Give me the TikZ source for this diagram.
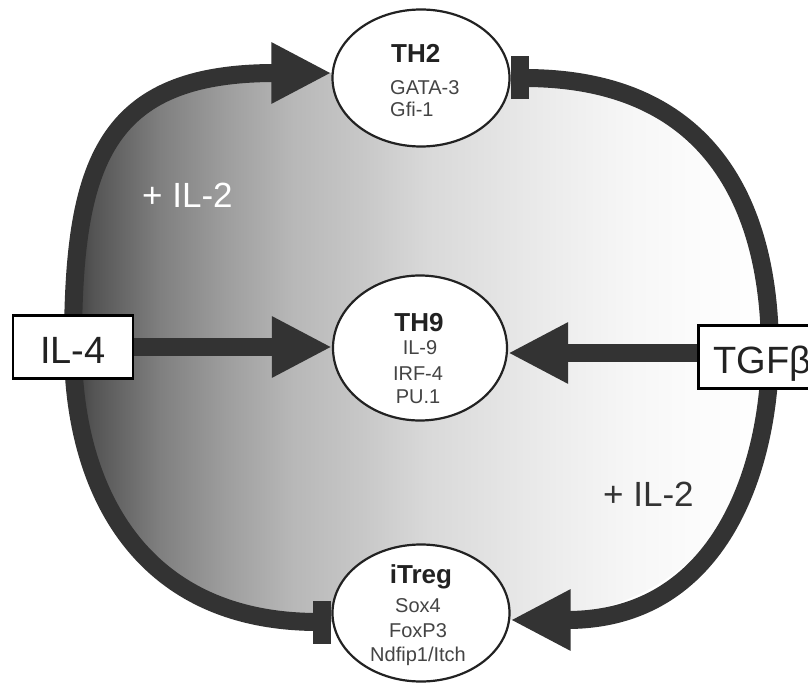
\documentclass[tikz,border=0pt]{standalone}
\usepackage{fontspec}
\setmainfont{Liberation Sans}
\usetikzlibrary{arrows.meta,shapes.geometric}
\definecolor{loopc}{RGB}{51,51,51}
\definecolor{txt}{RGB}{34,34,34}
\definecolor{subtxt}{RGB}{68,68,68}
\pgfdeclarelayer{bg}
\pgfdeclarelayer{mid}
\pgfsetlayers{bg,mid,main}
\pgfdeclarehorizontalshading{loopshade}{100bp}{%
rgb(0bp)=(0.24,0.24,0.24);
rgb(25bp)=(0.24,0.24,0.24);
rgb(26.43bp)=(0.33,0.33,0.33);
rgb(31.24bp)=(0.50,0.50,0.50);
rgb(36.05bp)=(0.62,0.62,0.62);
rgb(40.78bp)=(0.72,0.72,0.72);
rgb(45.59bp)=(0.78,0.78,0.78);
rgb(50.39bp)=(0.85,0.85,0.85);
rgb(55.13bp)=(0.89,0.89,0.89);
rgb(59.94bp)=(0.93,0.93,0.93);
rgb(64.74bp)=(0.965,0.965,0.965);
rgb(69.48bp)=(0.985,0.985,0.985);
rgb(75bp)=(1,1,1);
rgb(100bp)=(1,1,1)}
\tikzset{
  cell/.style={ellipse, draw=txt, line width=2.2pt, fill=white, inner sep=0pt},
  box/.style={draw=black, line width=2.5pt, fill=white, font=\fontsize{38}{38}\selectfont,
    text=txt, text height=34pt, text depth=1pt, inner ysep=14pt},
  title/.style={font=\fontsize{26}{26}\selectfont\bfseries, text=txt, anchor=base, inner sep=0pt},
  sub/.style={font=\fontsize{20}{20}\selectfont, text=subtxt, anchor=base, inner sep=0pt},
  plus/.style={font=\fontsize{35}{35}\selectfont, anchor=base west, inner sep=0pt},
  loopline/.style={draw=loopc, line width=18pt},
  head/.style={-{Triangle[length=60pt,width=57pt]}},
  barend/.style={-{Rectangle[length=18pt,width=43pt]}}
}
\begin{document}
\begin{tikzpicture}[x=1pt,y=-1pt]
\useasboundingbox (0,0) rectangle (808,684);
\clip (0,0) rectangle (808,684);

% nodes
\node[cell, minimum width=177pt, minimum height=137pt] (TH2) at (421,78) {};
\node[cell, minimum width=174pt, minimum height=145pt] (TH9) at (420,348) {};
\node[cell, minimum width=177pt, minimum height=137pt] (iTreg) at (421,613) {};
\node[box, minimum width=120pt] (IL4) at (73,347) {IL-4};
\node[box, anchor=west, inner xsep=15pt] (TGF) at (697,357) {TGFβ};
\coordinate (R) at (770,352);

% texts inside cells
\node[title, anchor=base west] (TH2t) at (391,63) {TH2};
\node[sub, anchor=base west] (TH2a) at (390,95) {GATA-3};
\node[sub, anchor=base west] (TH2b) at (390,117) {Gfi-1};

\node[title] (TH9t) at (419,332) {TH9};
\node[sub] (TH9a) at (420,355) {IL-9};
\node[sub] (TH9b) at (418,380) {IRF-4};
\node[sub] (TH9c) at (418,403) {PU.1};

\node[title] (iTregt) at (421,583) {iTreg};
\node[sub] (iTrega) at (418,612) {Sox4};
\node[sub] (iTregb) at (418,637) {FoxP3};
\node[sub] (iTregc) at (418,661) {Ndfip1/Itch};

% background shading
\begin{pgfonlayer}{bg}
\shade[shading=loopshade] (IL4.center) .. controls +(0,-185) and +(-227,0) .. ([yshift=5pt]TH2.west)
  -- (TH2.east) .. controls +(208,0) and +(0,-136) .. (R)
  .. controls +(0,99) and +(219,0) .. ([yshift=-7pt]iTreg.east)
  -- ([yshift=-9pt]iTreg.west) .. controls +(-196,0) and +(0,136) .. (IL4.center) -- cycle;
\end{pgfonlayer}

% loops and arrows
\begin{pgfonlayer}{mid}
\draw[loopline, head] (IL4.center) .. controls +(0,-185) and +(-227,0) .. ([yshift=5pt]TH2.west);
\draw[loopline, barend] (IL4.center) .. controls +(0,136) and +(-196,0) .. ([yshift=-9pt]iTreg.west);
\draw[loopline, barend] (R) .. controls +(0,-136) and +(208,0) .. (TH2.east);
\draw[loopline, head] (R) .. controls +(0,99) and +(219,0) .. ([yshift=-7pt]iTreg.east);
\draw[loopline, line width=17pt, head] (IL4.east) -- (IL4.east -| TH9.west);
\draw[loopline, line width=17pt, head] ([yshift=4pt]TGF.west) -- ([yshift=4pt]TGF.west -| TH9.east);
\end{pgfonlayer}

% labels
\node[plus, text=white] (il2a) at (142,208) {+ IL-2};
\node[plus, text=loopc] (il2b) at (603,506) {+ IL-2};
\end{tikzpicture}
\end{document}
